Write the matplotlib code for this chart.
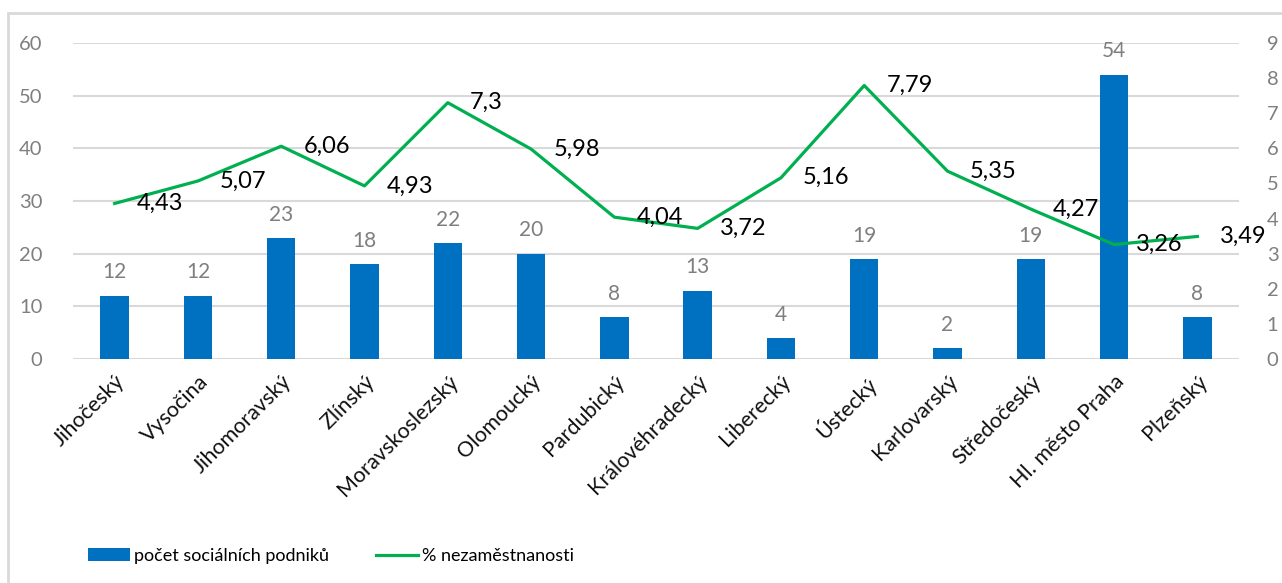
import matplotlib
matplotlib.use("Agg")
import matplotlib.pyplot as plt
from matplotlib.patches import Rectangle, Patch
from matplotlib.lines import Line2D

categories = ["Jihočeský", "Vysočina", "Jihomoravský", "Zlínský", "Moravskoslezský",
              "Olomoucký", "Pardubický", "Královéhradecký", "Liberecký", "Ústecký",
              "Karlovarský", "Středočeský", "Hl. město Praha", "Plzeňský"]
podniky = [12, 12, 23, 18, 22, 20, 8, 13, 4, 19, 2, 19, 54, 8]
nezam = [4.43, 5.07, 6.06, 4.93, 7.3, 5.98, 4.04, 3.72, 5.16, 7.79, 5.35, 4.27, 3.26, 3.49]
left_ticks = [0, 10, 20, 30, 40, 50, 60]
right_ticks = [0, 1, 2, 3, 4, 5, 6, 7, 8, 9]

plt.rcParams['font.family'] = ['Lato', 'DejaVu Sans']

BAR = "#0070C0"
LINE = "#00B050"
GRAY = "#7f7f7f"
GRID = "#d9d9d9"

fig = plt.figure(figsize=(12.82, 5.83), dpi=100)
ax = fig.add_axes([73/1282, 1-359/583, (1239-73)/1282, (359-43)/583])
ax2 = ax.twinx()

x = list(range(len(categories)))
ax.bar(x, podniky, width=0.34, color=BAR, zorder=3)
ax.set_ylim(0, 60)
ax.set_yticks(left_ticks)
ax.set_xlim(-0.5, len(categories)-0.5)
ax.yaxis.grid(True, color=GRID, lw=1.5, zorder=0)
ax.set_axisbelow(True)
for s in ax.spines.values():
    s.set_visible(False)
for s in ax2.spines.values():
    s.set_visible(False)
ax.tick_params(axis='y', length=0, labelsize=14.5, labelcolor=GRAY, pad=22)
ax.tick_params(axis='x', length=0)
ax.set_xticks(x)
ax.set_xticklabels(categories, rotation=45, ha='right', va='top',
                   rotation_mode='anchor', fontsize=15.5, color='#111111')
ax.tick_params(axis='x', pad=9)

for xi, v in zip(x, podniky):
    ax.annotate(str(v), (xi, v), xytext=(0, 12.5), textcoords='offset points',
                ha='center', va='baseline', fontsize=15, color=GRAY)

ax2.plot(x, nezam, color=LINE, lw=2.3, zorder=4)
ax2.set_ylim(0, 9)
ax2.set_yticks(right_ticks)
ax2.tick_params(axis='y', length=0, labelsize=14.5, labelcolor=GRAY, pad=20)
for xi, v in zip(x, nezam):
    ax2.annotate(str(v).replace('.', ','), (xi, v), xytext=(16, 0),
                 textcoords='offset points', ha='left', va='center',
                 fontsize=17, color='black', zorder=5)

handles = [Patch(facecolor=BAR, edgecolor='none'),
           Line2D([0], [0], color=LINE, lw=2.3)]
fig.legend(handles, ["počet sociálních podniků", "% nezaměstnanosti"],
           loc='center left', bbox_to_anchor=(72/1282, 1-556/583), ncol=2,
           frameon=False, fontsize=13, handlelength=2.3, handleheight=0.75,
           columnspacing=2.6, handletextpad=0.25)

fig.patches.append(Rectangle((8/1282, -0.05), 1.1, 0.05 + 1-13/583,
                             transform=fig.transFigure, fill=False,
                             edgecolor=GRID, lw=2))

fig.savefig("out.png", dpi=100)
